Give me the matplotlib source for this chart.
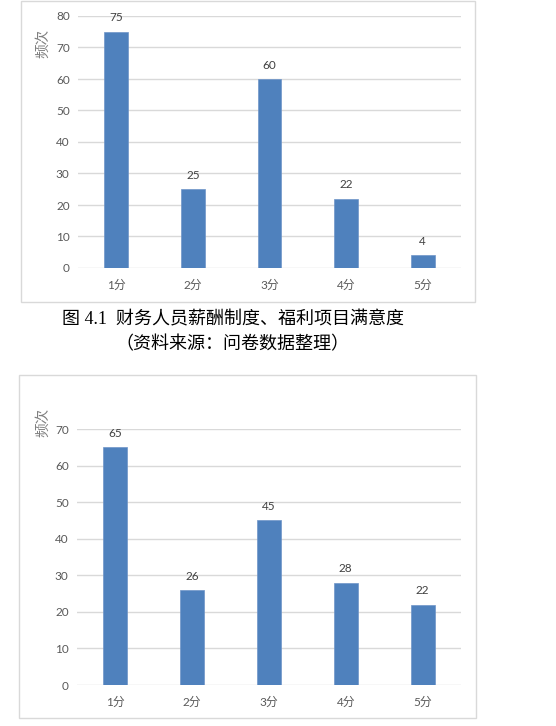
import matplotlib
matplotlib.use("Agg")
import matplotlib.pyplot as plt
from matplotlib.patches import Rectangle

# ── data ────────────────────────────────────────────────────────────────────
categories = ["1分", "2分", "3分", "4分", "5分"]
counts_top = [75, 25, 60, 22, 4]
counts_bottom = [65, 26, 45, 28, 22]
yticks_top = [0, 10, 20, 30, 40, 50, 60, 70, 80]
yticks_bottom = [0, 10, 20, 30, 40, 50, 60, 70]
ylabel = "频次"
caption_1 = "图 4.1  财务人员薪酬制度、福利项目满意度"
caption_2 = "（资料来源：问卷数据整理）"

W, H = 556, 726
BAR_COLOR = "#4f81bd"
GRID_COLOR = "#d9d9d9"
TICK_COLOR = "#595959"
LABEL_COLOR = "#404040"
SANS = ["Lato", "Noto Sans CJK SC"]
SERIF = ["Liberation Serif", "Noto Sans CJK SC"]

plt.rcParams["font.family"] = SANS

fig = plt.figure(figsize=(W / 100, H / 100), dpi=100)


def px_rect(left, top, right, bottom):
    """pixel box (top-left origin) -> figure fraction [l, b, w, h]"""
    return [left / W, (H - bottom) / H, (right - left) / W, (bottom - top) / H]


def frame(left, top, right, bottom):
    l, b, w, h = px_rect(left, top, right, bottom)
    fig.patches.append(Rectangle((l, b), w, h, transform=fig.transFigure,
                                 fill=False, edgecolor=GRID_COLOR, lw=1.0))


def bar_chart(box, values, ticks, ylab_pos):
    ax = fig.add_axes(px_rect(*box))
    x = range(len(categories))
    bars = ax.bar(x, values, width=0.31, color=BAR_COLOR,
                  edgecolor="#6f95c8", linewidth=0.5, zorder=3)
    for rect, v in zip(bars, values):
        ax.annotate(str(v), (rect.get_x() + rect.get_width() / 2, v),
                    xytext=(0, 6), textcoords="offset points",
                    ha="center", va="bottom", fontsize=8.5, color=LABEL_COLOR)
    ax.set_xlim(-0.5, len(categories) - 0.5)
    ax.set_ylim(ticks[0], ticks[-1])
    ax.set_yticks(ticks)
    ax.set_xticks(list(x))
    ax.set_xticklabels(categories)
    ax.tick_params(length=0, labelsize=8.5, colors=TICK_COLOR)
    ax.tick_params(axis="x", pad=8)
    ax.tick_params(axis="y", pad=6)
    ax.grid(axis="y", color=GRID_COLOR, lw=1.0, zorder=0)
    for s in ax.spines.values():
        s.set_visible(False)
    fig.text(ylab_pos[0] / W, 1 - ylab_pos[1] / H, ylabel, rotation=90,
             ha="center", va="center", fontsize=10.5, color="#7f7f7f")
    return ax


# ── top chart ───────────────────────────────────────────────────────────────
frame(21, 1, 475, 302)
bar_chart((78, 16, 461, 268), counts_top, yticks_top, (43, 43))

fig.text(233 / W, 1 - 320 / H, caption_1, ha="center", va="center",
         fontsize=13, family=SERIF, color="black")
fig.text(232 / W, 1 - 345 / H, caption_2, ha="center", va="center",
         fontsize=13, family=SERIF, color="black")

# ── bottom chart ────────────────────────────────────────────────────────────
frame(19, 375, 476, 718)
bar_chart((77, 429, 461, 685), counts_bottom, yticks_bottom, (43, 422))

fig.savefig("out.png", dpi=100, facecolor="white")
